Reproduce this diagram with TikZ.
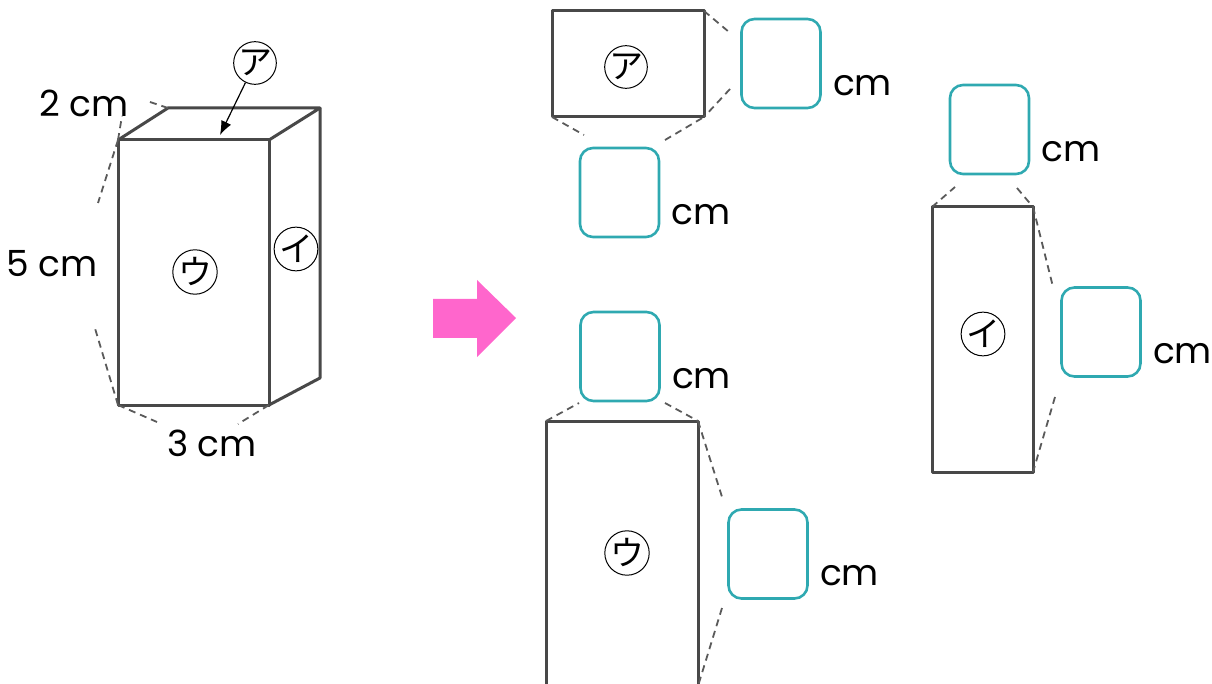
\documentclass[tikz,border=0pt]{standalone}
\usepackage{fontspec}
\setmainfont{Poppins}
\newfontfamily\jpfont{Noto Sans CJK JP}
\usetikzlibrary{arrows.meta,positioning}
\definecolor{myteal}{HTML}{2FA9B1}
\definecolor{mypink}{HTML}{FF66CC}
\definecolor{edgegray}{HTML}{484848}
\newcommand{\answerbox}[3]{
  \node[ansbox] (#1) at (#2, #3) {};
  \node[unit, anchor=base west] (#1unit) at ([shift={(11,-14)}]#1.south east) {cm};
}

\begin{document}
\begin{tikzpicture}[x=1pt, y=-1pt,
    face/.style={draw=edgegray, line width=3pt, line join=round},
    dim/.style={draw=edgegray!90, line width=1.8pt, dash pattern=on 7pt off 5pt},
    ansbox/.style={draw=myteal, line width=2.6pt, rounded corners=13pt, minimum width=79pt, minimum height=89pt, inner sep=0pt},
    unit/.style={font=\fontsize{36}{40}\selectfont, inner sep=0pt},
    tag/.style={circle, draw, line width=1pt, minimum size=42pt, inner sep=0pt, font=\jpfont\fontsize{34}{34}\selectfont}]
    \useasboundingbox (0,0) rectangle (1212,684);

    % box
    \coordinate (ftl) at (118,140);
    \coordinate (ftr) at (269,140);
    \coordinate (fbl) at (118,405);
    \coordinate (fbr) at (269,405);
    \coordinate (btl) at (168,108);
    \coordinate (btr) at (320,108);
    \coordinate (bbr) at (320,378);
    \draw[face] (ftl) rectangle (fbr);
    \draw[face] (ftl) -- (btl) -- (btr) -- (ftr);
    \draw[face] (btr) -- (bbr) -- (fbr);

    \node[unit] (depth) at (84,103) {2 cm};
    \node[unit] (height) at (52,264) {5 cm};
    \node[unit] (width) at (212,443) {3 cm};
    \coordinate (d1) at (147,101);
    \coordinate (d2) at (122,116);
    \coordinate (h1) at (98,203);
    \coordinate (h2) at (94,325);
    \coordinate (w1) at (157,422);
    \coordinate (w2) at (238,424);
    \draw[dim] (btl) -- (d1);
    \draw[dim] (ftl) -- (d2);
    \draw[dim] (ftl) -- (h1);
    \draw[dim] (fbl) -- (h2);
    \draw[dim] (fbl) -- (w1);
    \draw[dim] (fbr) -- (w2);

    \node[tag] (tagA) at (255,63) {ア};
    \node[tag] (tagU) at (195,272) {ウ};
    \node[tag] (tagI) at (296,249) {イ};
    \coordinate (topface) at (220,135);
    \draw[-{Latex[length=14pt,width=11pt]}, line width=1.2pt] (tagA) -- (topface);

    \fill[mypink] (433,299) -- (477,299) -- (477,280) -- (516,318) -- (477,357) -- (477,338) -- (433,338) -- cycle;

    % net A
    \coordinate (aTL) at (552,11);
    \coordinate (aTR) at (704,11);
    \coordinate (aBL) at (552,117);
    \coordinate (aBR) at (704,117);
    \draw[face] (aTL) rectangle (aBR);
    \node[tag] (netA) at (626,67) {ア};
    \answerbox{ansA1}{781}{63.5}
    \answerbox{ansA2}{619.5}{192.5}
    \coordinate (a1) at (729,32);
    \coordinate (a2) at (730,89);
    \coordinate (a3) at (584,135);
    \coordinate (a4) at (665,140);
    \draw[dim] (aTR) -- (a1);
    \draw[dim] (a2) -- (aBR);
    \draw[dim] (aBL) -- (a3);
    \draw[dim] (a4) -- (aBR);

    % net I
    \coordinate (iTL) at (932,207);
    \coordinate (iTR) at (1033,207);
    \coordinate (iBR) at (1033,472);
    \draw[face] (iTL) rectangle (iBR);
    \node[tag] (netI) at (983,334) {イ};
    \answerbox{ansI1}{989.5}{129.5}
    \answerbox{ansI2}{1101}{332}
    \coordinate (i1) at (955,187);
    \coordinate (i2) at (1017,188);
    \coordinate (i3) at (1053,287);
    \coordinate (i4) at (1055,397);
    \draw[dim] (iTL) -- (i1);
    \draw[dim] (i2) -- (iTR);
    \draw[dim] (iTR) -- (i3);
    \draw[dim] (i4) -- (iBR);

    % net U
    \coordinate (uTL) at (546,421);
    \coordinate (uTR) at (698,421);
    \coordinate (uBR) at (698,710);
    \draw[face] (uTL) rectangle (uBR);
    \node[tag] (netU) at (627,553) {ウ};
    \answerbox{ansU1}{620}{356.5}
    \answerbox{ansU2}{768}{554}
    \coordinate (u1) at (579,403);
    \coordinate (u2) at (665,403);
    \coordinate (u3) at (723,500);
    \coordinate (u4) at (722,608);
    \coordinate (u5) at (698,686);
    \draw[dim] (uTL) -- (u1);
    \draw[dim] (u2) -- (uTR);
    \draw[dim] (uTR) -- (u3);
    \draw[dim] (u4) -- (u5);
\end{tikzpicture}
\end{document}
